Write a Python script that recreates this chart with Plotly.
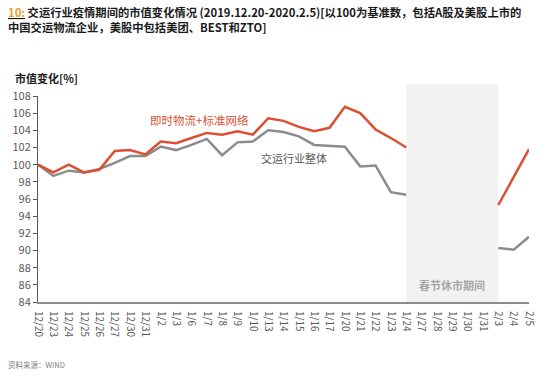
import plotly.graph_objects as go

categories = ["12/20", "12/23", "12/24", "12/25", "12/26", "12/27", "12/30", "12/31",
              "1/2", "1/3", "1/6", "1/7", "1/8", "1/9", "1/10", "1/13", "1/14", "1/15",
              "1/16", "1/17", "1/20", "1/21", "1/22", "1/23", "1/24", "1/27", "1/28",
              "1/29", "1/30", "1/31", "2/3", "2/4", "2/5"]

express_network = [100.0, 99.1, 100.0, 99.1, 99.4, 101.6, 101.7, 101.2,
                   102.7, 102.5, 103.1, 103.7, 103.5, 103.9, 103.5, 105.4, 105.1, 104.4,
                   103.9, 104.3, 106.75, 106.0, 104.1, 103.1, 102.0, None, None,
                   None, None, None, 95.3, 98.5, 101.8]

transport_total = [100.0, 98.7, 99.3, 99.1, 99.5, 100.2, 101.0, 101.0,
                   102.1, 101.7, 102.3, 103.0, 101.1, 102.6, 102.7, 104.0, 103.8, 103.3,
                   102.3, 102.2, 102.1, 99.8, 99.9, 96.8, 96.5, None, None,
                   None, None, None, 90.3, 90.1, 91.6]

y_ticks = [84, 86, 88, 90, 92, 94, 96, 98, 100, 102, 104, 106, 108]

FONT = "Noto Sans CJK SC, Noto Sans, sans-serif"
RED = "#dc4f33"
GREY = "#8c8c8c"

x_idx = list(range(len(categories)))

fig = go.Figure()
fig.add_trace(go.Scatter(x=x_idx, y=transport_total, mode="lines",
                         line=dict(color=GREY, width=2.5), connectgaps=False,
                         name="交运行业整体"))
fig.add_trace(go.Scatter(x=x_idx, y=express_network, mode="lines",
                         line=dict(color=RED, width=2.5), connectgaps=False,
                         name="即时物流+标准网络"))

# holiday band
fig.add_shape(type="rect", xref="x", yref="paper",
              x0=categories.index("1/24"), x1=categories.index("2/3"),
              y0=0, y1=1.058, fillcolor="#f2f2f2", line=dict(width=0), layer="below")

fig.update_layout(
    width=550, height=377,
    margin=dict(l=36, r=13, t=96, b=75),
    plot_bgcolor="white", paper_bgcolor="white",
    showlegend=False,
    font=dict(family=FONT, color="#404040"),
    xaxis=dict(range=[0, 32], tickmode="array", tickvals=x_idx, ticktext=categories,
               tickangle=90, tickfont=dict(size=10, color="#595959"),
               showgrid=False, zeroline=False, showline=True,
               linecolor="#8c8c8c", linewidth=2, ticks="outside", ticklen=5,
               tickcolor="rgba(0,0,0,0)"),
    yaxis=dict(range=[84, 108], tickmode="array", tickvals=y_ticks,
               tickfont=dict(size=11, color="#595959"),
               showgrid=False, zeroline=False, showline=True,
               linecolor="#595959", linewidth=1, ticks="outside", ticklen=4,
               tickcolor="#595959"),
)

annotations = [
    dict(xref="paper", yref="paper", x=-33/501, y=1 + (96 - 2)/206, xanchor="left", yanchor="top",
         align="left", showarrow=False,
         text="<b><u><span style='color:#e0a030'>10:</span></u> 交运行业疫情期间的市值变化情况 (2019.12.20-2020.2.5)[以100为基准数，包括A股及美股上市的<br>中国交运物流企业，美股中包括美团、BEST和ZTO]</b>",
         font=dict(size=11.3, color="#1a1a1a", family=FONT)),
    dict(xref="paper", yref="paper", x=-26/501, y=1 + (96 - 78)/206, xanchor="left", yanchor="middle",
         showarrow=False, text="<b>市值变化[%]</b>",
         font=dict(size=11, color="#1a1a1a", family=FONT)),
    dict(xref="x", yref="y", x=10.5, y=105.2, showarrow=False,
         text="即时物流+标准网络", font=dict(size=11.5, color=RED, family=FONT)),
    dict(xref="x", yref="y", x=16.7, y=100.8, showarrow=False,
         text="交运行业整体", font=dict(size=11, color="#595959", family=FONT)),
    dict(xref="x", yref="y", x=27.0, y=86.0, showarrow=False,
         text="<b>春节休市期间</b>", font=dict(size=11, color="#a6a6a6", family=FONT)),
    dict(xref="paper", yref="paper", x=-33/501, y=-(364 - 302)/206, xanchor="left", yanchor="middle",
         showarrow=False, text="资料来源：WIND",
         font=dict(size=7.5, color="#808080", family=FONT)),
]
fig.update_layout(annotations=annotations)

fig.write_html("out.html", config={"displayModeBar": False},
               post_script="document.body.style.margin='0';document.body.style.overflow='hidden';")
